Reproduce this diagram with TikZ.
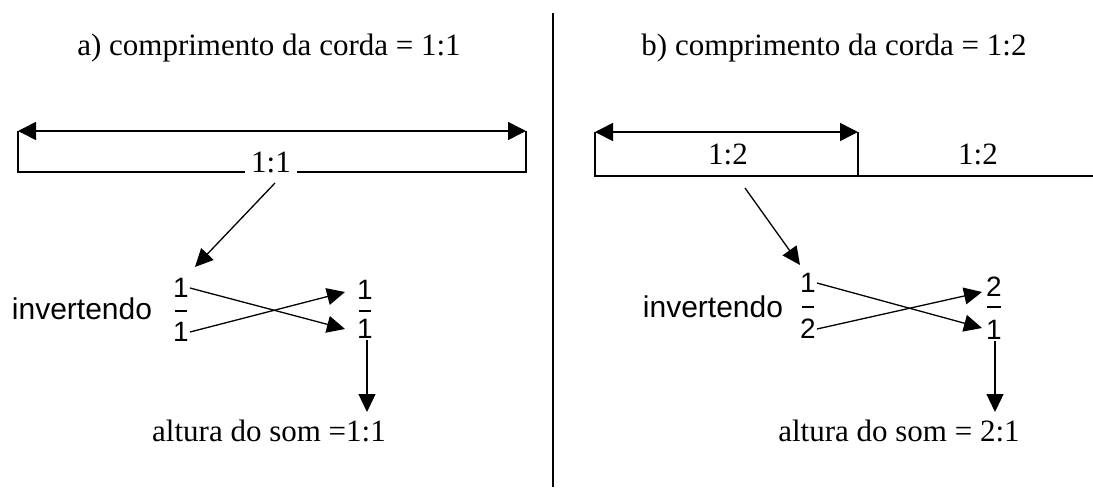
\documentclass[tikz,border=0pt]{standalone}
\usepackage{fontspec}
\setmainfont{Liberation Serif}
\newfontfamily\arialf{Liberation Sans}
\usetikzlibrary{arrows.meta}
\begin{document}
\begin{tikzpicture}[x=1pt,y=-1pt,
  ln/.style={line width=1.5pt},
  arr/.style={line width=1.3pt,-{Triangle[length=18pt,width=17pt]}},
  darr/.style={line width=1.6pt,{Triangle[length=18pt,width=18pt]}-{Triangle[length=18pt,width=18pt]}},
  serif/.style={font=\fontsize{31}{34}\selectfont, inner sep=1pt},
  sans/.style={font=\arialf\fontsize{30}{34}\selectfont, inner sep=1pt},
  dig/.style={font=\arialf\fontsize{28}{30}\selectfont, inner sep=1pt}]
\useasboundingbox (0,0) rectangle (1093,491);
% divider
\coordinate (dtop) at (553,13);
\coordinate (dbot) at (553,487);
\draw[ln] (dtop) -- (dbot);

% ---------- left (a) ----------
\node[serif] (ta) at (269,48) {a) comprimento da corda = 1:1};
\coordinate (aL) at (18,131);
\coordinate (aR) at (526,131);
\coordinate (aLb) at (18,172);
\coordinate (aRb) at (526,172);
\draw[darr] (aL) -- (aR);
\draw[ln] (aL) -- (aLb) -- (aRb) -- (aR);
\node[serif, fill=white, inner xsep=6pt, inner ysep=2pt] (a11) at (271,162) {1:1};
% fraction left
\node[sans] (inva) at (82,309) {invertendo};
\node[dig] (an) at (181,288) {1};
\node[dig] (ad) at (181,332) {1};
\coordinate (abL) at (175,311); \coordinate (abR) at (187,311);
\draw[line width=1.2pt] (abL) -- (abR);
\node[dig] (arn) at (365,290) {1};
\node[dig] (ard) at (365,329) {1};
\coordinate (arbL) at (359,311); \coordinate (arbR) at (371,311);
\draw[line width=1.2pt] (arbL) -- (arbR);
\coordinate (atip1) at (345,329);
\coordinate (atip2) at (345,292);
\coordinate (afrom) at (275,183);
\coordinate (ato) at (195,267);
\draw[arr] (afrom) -- (ato);
\draw[arr] (an.east) -- (atip1);
\draw[arr] (ad.east) -- (atip2);
\node[serif] (alta) at (269,431) {altura do som =1:1};
\coordinate (adst) at (367,412);
\draw[arr] (adst |- ard.south) -- (adst);

% ---------- right (b) ----------
\node[serif] (tb) at (834,48) {b) comprimento da corda = 1:2};
\coordinate (bL) at (595,132);
\coordinate (bR) at (858,132);
\coordinate (bLb) at (595,176);
\coordinate (bRb) at (858,176);
\coordinate (bEnd) at (1093,176);
\draw[darr] (bL) -- (bR);
\draw[ln] (bL) -- (bLb) -- (bEnd);
\draw[ln] (bR) -- (bRb);
\node[serif] (b12a) at (728,154) {1:2};
\node[serif] (b12b) at (978,154) {1:2};
% fraction right
\node[sans] (invb) at (713,307) {invertendo};
\node[dig] (bn) at (808,283) {1};
\node[dig] (bd) at (808,329) {2};
\coordinate (bbL) at (802,307); \coordinate (bbR) at (814,307);
\draw[line width=1.2pt] (bbL) -- (bbR);
\node[dig] (brn) at (994,287) {2};
\node[dig] (brd) at (994,330) {1};
\coordinate (brbL) at (987,307); \coordinate (brbR) at (1001,307);
\draw[line width=1.2pt] (brbL) -- (brbR);
\coordinate (btip1) at (982,328);
\coordinate (btip2) at (982,292);
\coordinate (bfrom) at (745,188);
\coordinate (bto) at (800,265);
\draw[arr] (bfrom) -- (bto);
\draw[arr] (bn.east) -- (btip1);
\draw[arr] (bd.east) -- (btip2);
\node[serif] (altb) at (899,431) {altura do som = 2:1};
\coordinate (bdst) at (995,412);
\draw[arr] (bdst |- brd.south) -- (bdst);
\end{tikzpicture}
\end{document}
